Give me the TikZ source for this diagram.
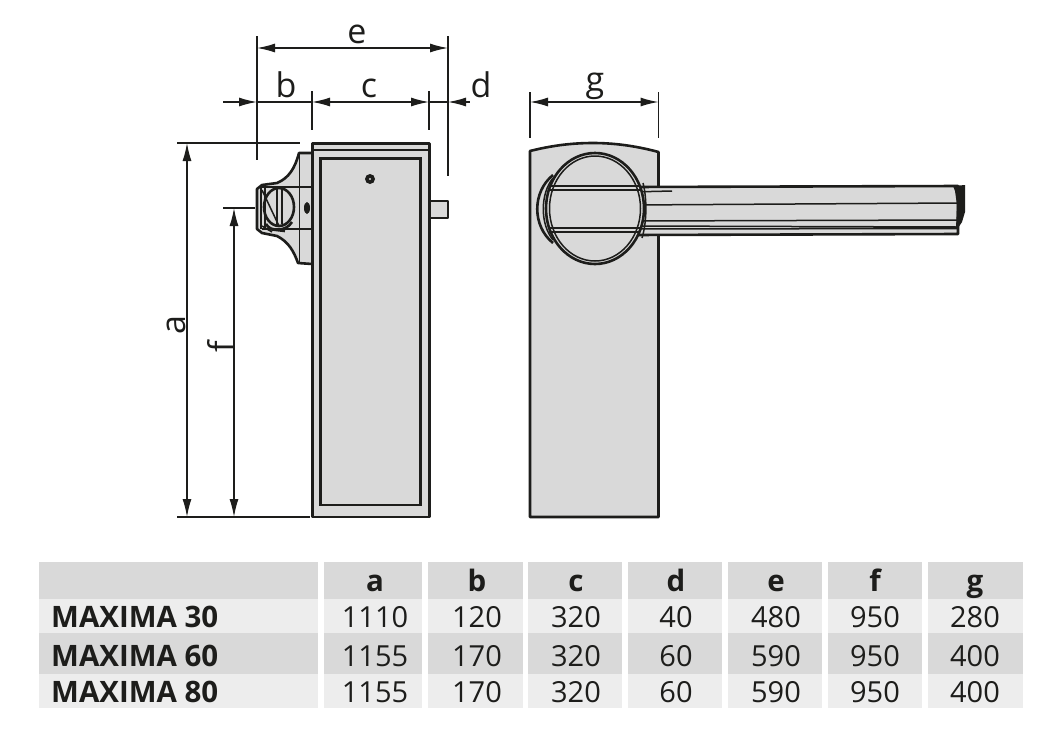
\documentclass[tikz,border=0pt]{standalone}
\usepackage{fontspec}
\setmainfont{Open Sans}
\usetikzlibrary{arrows.meta}
\definecolor{ink}{HTML}{1D1D1B}
\definecolor{body}{HTML}{D9D9D9}
\definecolor{rowa}{HTML}{D9D9D9}
\definecolor{rowb}{HTML}{EDEDED}
\tikzset{
  outl/.style={draw=ink,line width=2.6pt,line join=round},
  thin/.style={draw=ink,line width=1.5pt},
  fine/.style={draw=ink,line width=1pt},
  ext/.style={draw=ink,line width=1.4pt},
  dimline/.style={draw=ink,line width=1.4pt},
  tip/.tip={Latex[length=18pt,width=9pt]},
  dimlabel/.style={font=\fontsize{34}{34}\selectfont,text=ink,inner sep=0pt},
  cell/.style={font=\fontsize{29}{29}\selectfont,text=ink,inner sep=0pt,anchor=base},
  hcell/.style={cell,font=\fontsize{29.5}{29}\selectfont\bfseries},
  mcell/.style={cell,anchor=base west,font=\fontsize{29.5}{29}\selectfont\bfseries},
}
\begin{document}
\begin{tikzpicture}[x=1pt,y=-1pt]
\useasboundingbox (0,0) rectangle (1063,732);
\fill[white] (0,0) rectangle (1063,732);
% ---- side view: knob
\path[fill=body] (312,153) -- (298,153) .. controls (294,168) and (289,178) .. (277,183) -- (260,185)
  -- (257,190) -- (257,228) -- (262,233) -- (277,236) .. controls (289,242) and (294,252) .. (298,263) -- (312,264) -- cycle;
\draw[outl] (312,153) -- (299,153) .. controls (295,168) and (289,178) .. (277,183) -- (262,185)
  -- (257,189) -- (257,229) -- (262,233) -- (277,236) .. controls (289,242) and (294,252) .. (298,263) -- (312,264);
\draw[outl] (260,187) -- (312,187);
\draw[outl] (262,229) -- (312,229);
\draw[fine] (299,153) -- (299,264);
\draw[outl] (279,207) ellipse (15 and 19);
\draw[thin] (261,188) -- (261,229) (265,188) -- (265,228);
\draw[thin] (262,190) -- (279,226) (262,226) -- (272,232);
\draw[outl] (277,188) -- (277,226);
\draw[thin] (282,188) -- (282,224);
\draw[outl] (266,224) .. controls (270,232) and (286,232) .. (292,222);
\draw[outl] (268,229) -- (285,231);
\fill[ink] (307,208) ellipse (3 and 6);
% ---- side view: body
\draw[outl,fill=body] (429,201) rectangle (448,218);
\draw[outl,fill=body] (312.5,143.5) rectangle (429.5,517);
\draw[thin] (312,150) -- (429,150);
\draw[draw=ink,line width=2.2pt] (320.5,158.5) rectangle (420.5,505);
\draw[line width=3pt,draw=ink] (429,180) -- (429,190);
\fill[ink] (370,179) circle (5);
\fill[body] (370,179) circle (1.2);
% ---- front view: body
\draw[outl,fill=body] (530,517) -- (530,151) .. controls (550,146) and (570,143) .. (593,143)
  .. controls (618,143) and (640,147) .. (658.5,152) -- (658.5,517) -- cycle;
% ---- beam
\draw[outl,fill=body] (630,187) -- (958,186) -- (958,234) -- (630,235) -- cycle;
\draw[thin] (630,192) -- (672,191) (630,205) -- (958,203) (630,221) -- (958,220) (630,226) -- (958,227) (630,229) -- (958,228.5);
\fill[ink] (953,186) -- (965,185) -- (965,212) -- (962,222) -- (958,228) -- (956,228)
  -- (957,205) -- (955,191) -- cycle;
% ---- front view: drum
\draw[outl] (553,175) .. controls (532,192) and (532,226) .. (553,243);
\draw[thin] (643,183) .. controls (647,198) and (647,222) .. (642,238);
\draw[outl,fill=body] (595,208.5) ellipse (49 and 55.5);
\draw[thin] (595,208.5) ellipse (45.5 and 52.5);
\draw[thin] (553,178) .. controls (540,194) and (540,224) .. (553,240);
\draw[outl] (549,186) -- (640,186);
\draw[thin] (549,190) -- (640,190);
\draw[outl] (549,228) -- (640,228);
\draw[thin] (549,232) -- (640,232);
% ---- dimension anchors
\coordinate (eL) at (257,48); \coordinate (eR) at (448,48);
\coordinate (xL) at (257,36); \coordinate (xLb) at (257,160);
\coordinate (xR) at (448,36); \coordinate (xRb) at (448,176);
\coordinate (cL) at (312,102); \coordinate (cR) at (429,102);
\coordinate (cLt) at (312,91); \coordinate (cLb) at (312,130);
\coordinate (cRt) at (429,91); \coordinate (cRb) at (429,130);
\coordinate (bL) at (257,102); \coordinate (bT) at (223,102);
\coordinate (dL) at (448,102); \coordinate (dT) at (470,102);
\coordinate (gL) at (530,102); \coordinate (gR) at (658.5,102);
\coordinate (gLt) at (530,92); \coordinate (gLb) at (530,138);
\coordinate (gRt) at (658.5,92); \coordinate (gRb) at (658.5,138);
\coordinate (aT) at (187,143); \coordinate (aB) at (187,517);
\coordinate (fT) at (234,208); \coordinate (fB) at (234,517);
\coordinate (tL) at (177,143); \coordinate (tR) at (300,143);
\coordinate (uL) at (177,517); \coordinate (uR) at (310,517);
\coordinate (vL) at (223,208); \coordinate (vR) at (255,208);
% ---- extension lines
\draw[ext] (xL) -- (xLb);
\draw[ext] (xR) -- (xRb);
\draw[ext] (cLt) -- (cLb);
\draw[ext] (cRt) -- (cRb);
\draw[ext] (gLt) -- (gLb);
\draw[ext] (gRt) -- (gRb);
\draw[ext] (tL) -- (tR);
\draw[ext] (uL) -- (uR);
\draw[ext] (vL) -- (vR);
% ---- dimension lines
\draw[dimline,{tip}-{tip}] (eL) -- (eR);
\draw[dimline,-{tip}] (bT) -- (bL);
\draw[dimline] (bL) -- (cL);
\draw[dimline,{tip}-{tip}] (cL) -- (cR);
\draw[dimline] (cR) -- (dL);
\draw[dimline,{tip}-] (dL) -- (dT);
\draw[dimline,{tip}-{tip}] (gL) -- (gR);
\draw[dimline,{tip}-{tip}] (aT) -- (aB);
\draw[dimline,{tip}-{tip}] (fT) -- (fB);
% ---- dimension labels
\node[dimlabel,anchor=base] (le) at (357,43) {e};
\node[dimlabel,anchor=base] (lb) at (286,97) {b};
\node[dimlabel,anchor=base] (lc) at (369,97) {c};
\node[dimlabel,anchor=base] (ld) at (481,97) {d};
\node[dimlabel,anchor=base] (lg) at (595,91) {g};
\node[dimlabel,rotate=90,anchor=base] (la) at (185,325) {a};
\node[dimlabel,rotate=90,anchor=base] (lf) at (233,347) {f};
% ---- table
\foreach \xa/\xb in {39/318,324/422,428/523,528/622,628/722,728/822,828/922,928/1023}{
  \fill[rowa] (\xa,562) rectangle (\xb,599);
  \fill[rowb] (\xa,599) rectangle (\xb,633);
  \fill[rowa] (\xa,633) rectangle (\xb,674);
  \fill[rowb] (\xa,674) rectangle (\xb,708);
}
\foreach \cx/\h/\ra/\rb/\rc [count=\i] in {
  375/a/1110/1155/1155, 477/b/120/170/170, 576/c/320/320/320, 676/d/40/60/60,
  776/e/480/590/590, 875/f/950/950/950, 975/g/280/400/400}{
  \node[hcell] (h\i) at (\cx,591) {\h};
  \node[cell] (r\i a) at (\cx,627) {\ra};
  \node[cell] (r\i b) at (\cx,666) {\rb};
  \node[cell] (r\i c) at (\cx,702) {\rc};
}
\node[mcell] (m1) at (51,627) {MAXIMA 30};
\node[mcell] (m2) at (51,666) {MAXIMA 60};
\node[mcell] (m3) at (51,702) {MAXIMA 80};
\end{tikzpicture}
\end{document}
